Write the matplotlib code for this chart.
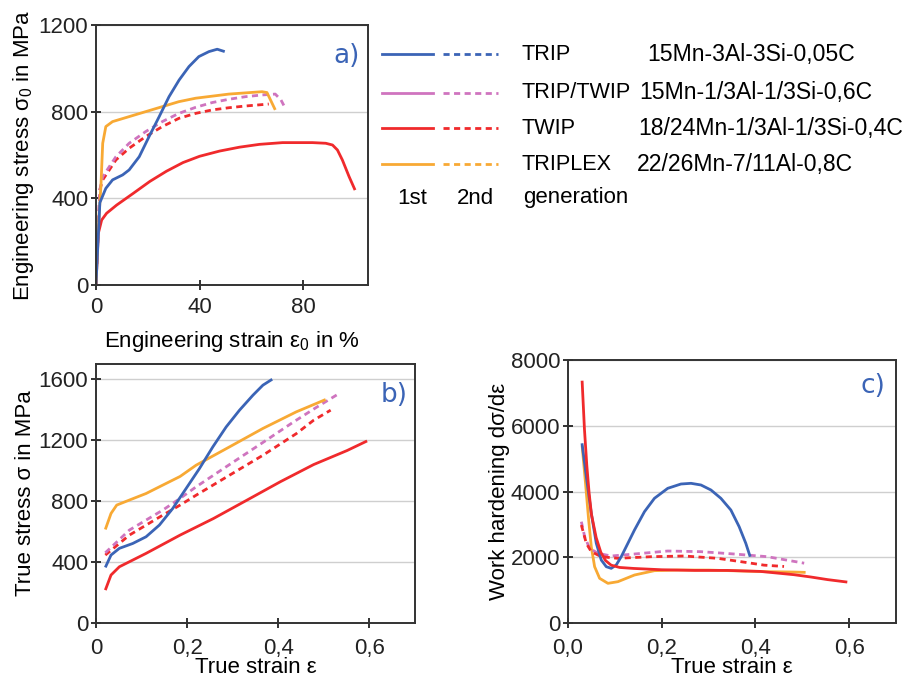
import matplotlib
matplotlib.use("Agg")
import matplotlib.pyplot as plt
from matplotlib.ticker import FixedLocator

plt.rcParams["font.family"] = ["Liberation Sans", "DejaVu Sans"]
plt.rcParams["mathtext.fontset"] = "custom"
plt.rcParams["mathtext.rm"] = "Liberation Sans"

# colours of the four steel families
c_trip = "#3b64b6"
c_triptwip = "#cf74bf"
c_twip = "#f02a2c"
c_triplex = "#f8a934"

# legend table
names = ["TRIP", "TRIP/TWIP", "TWIP", "TRIPLEX"]
comps = ["15Mn-3Al-3Si-0,05C", "15Mn-1/3Al-1/3Si-0,6C",
         "18/24Mn-1/3Al-1/3Si-0,4C", "22/26Mn-7/11Al-0,8C"]
colors = [c_trip, c_triptwip, c_twip, c_triplex]

# ---- a) engineering stress-strain ----
a_trip_x = [0, 1.5, 3.8, 6.4, 10.3, 12.8, 16.7, 20.5, 24.4, 28.2, 32.1, 35.9,
            39.7, 43.6, 46.8, 49.7]
a_trip_y = [0, 380, 446, 485, 508, 531, 592, 685, 777, 869, 946, 1008,
            1054, 1077, 1088, 1077]

a_triplex_x = [0, 0.8, 1.9, 2.6, 3.8, 6.4, 12.8, 19.2, 25.6, 32, 38.5, 51.3,
               64.1, 66, 68, 69.2]
a_triplex_y = [0, 250, 454, 654, 731, 754, 777, 800, 823, 846, 862, 881,
               892, 888, 838, 808]

a_triptwip2_x = [0, 1.5, 2.6, 7.7, 12.8, 19.2, 25.6, 32, 38.5, 44.9, 51.3,
                 57.7, 64.1, 69.2, 71.4, 73.1]
a_triptwip2_y = [0, 440, 500, 592, 654, 708, 754, 792, 820, 842, 857, 869,
                 877, 881, 854, 815]

a_twip2_x = [0, 1.5, 2.6, 7.7, 12.8, 19.2, 25.6, 32, 38.5, 44.9, 51.3, 57.7,
             66.7]
a_twip2_y = [0, 440, 485, 577, 631, 685, 731, 769, 792, 808, 818, 826, 835]

a_twip_x = [0, 0.9, 2.2, 4.1, 8, 14.4, 20.8, 27.2, 33.6, 40, 47.7, 55.4, 63.1,
            72, 83.6, 88.7, 91.3, 93.2, 95.1, 97.7, 100]
a_twip_y = [0, 238, 300, 331, 369, 423, 478, 525, 565, 594, 618, 636, 649,
            657, 657, 654, 646, 623, 577, 500, 438]

# ---- b) true stress-strain ----
b_trip_x = [0.0205, 0.033, 0.0513, 0.0806, 0.1099, 0.1392, 0.1685, 0.1978,
            0.2271, 0.2564, 0.2857, 0.315, 0.3444, 0.3663, 0.3868]
b_trip_y = [365, 446, 490, 522, 566, 643, 752, 883, 1014, 1156, 1287, 1397,
            1495, 1561, 1600]

b_triplex_x = [0.0205, 0.033, 0.0455, 0.0733, 0.1099, 0.1465, 0.1846, 0.2198,
               0.293, 0.3663, 0.4396, 0.4835, 0.504]
b_triplex_y = [614, 719, 774, 807, 850, 905, 962, 1036, 1156, 1277, 1386,
               1441, 1467]

b_triptwip2_x = [0.0205, 0.0733, 0.1465, 0.1846, 0.2198, 0.293, 0.3663,
                 0.4337, 0.4835, 0.53]
b_triptwip2_y = [461, 610, 741, 818, 894, 1040, 1185, 1320, 1415, 1500]

b_twip2_x = [0.0205, 0.0733, 0.1465, 0.1846, 0.2198, 0.293, 0.3663, 0.4396,
             0.4777, 0.515]
b_twip2_y = [446, 577, 708, 774, 839, 970, 1101, 1243, 1331, 1397]

b_twip_x = [0.0205, 0.033, 0.0513, 0.1099, 0.1846, 0.2579, 0.331, 0.4044,
            0.4777, 0.551, 0.595]
b_twip_y = [216, 315, 369, 457, 577, 686, 806, 927, 1040, 1132, 1195]

# ---- c) work hardening ----
c_trip_x = [0.0298, 0.039, 0.0496, 0.0603, 0.0709, 0.0816, 0.0922, 0.1028,
            0.1135, 0.1277, 0.1418, 0.1631, 0.1844, 0.2128, 0.241, 0.2624,
            0.2837, 0.305, 0.3262, 0.3475, 0.3652, 0.3794, 0.3887]
c_trip_y = [5466, 4450, 3337, 2424, 1916, 1713, 1663, 1764, 2017, 2424, 2829,
            3386, 3793, 4097, 4228, 4249, 4198, 4046, 3793, 3437, 2930, 2424,
            2017]

c_triplex_x = [0.03, 0.037, 0.044, 0.0496, 0.0567, 0.0674, 0.0851, 0.1064,
               0.1418, 0.1844, 0.234, 0.3, 0.4255, 0.482, 0.507]
c_triplex_y = [5400, 4300, 3133, 2321, 1713, 1359, 1207, 1257, 1460, 1592,
               1612, 1610, 1561, 1550, 1540]

c_triptwip2_x = [0.0284, 0.0355, 0.046, 0.0638, 0.0922, 0.1418, 0.2128,
                 0.2837, 0.3546, 0.4255, 0.504]
c_triptwip2_y = [3082, 2625, 2272, 2120, 2038, 2099, 2190, 2170, 2099, 2017,
                 1820]

c_twip2_x = [0.0284, 0.039, 0.0496, 0.0709, 0.1064, 0.1773, 0.2482, 0.3191,
             0.3688, 0.4184, 0.461]
c_twip2_y = [2980, 2424, 2170, 2017, 1968, 2017, 2038, 1968, 1866, 1760,
             1720]

c_twip_x = [0.03, 0.035, 0.04, 0.045, 0.05, 0.06, 0.07, 0.08, 0.092, 0.11,
            0.14, 0.2, 0.27, 0.34, 0.41, 0.446, 0.482, 0.518, 0.554, 0.596]
c_twip_y = [7370, 5900, 4800, 3950, 3300, 2600, 2150, 1900, 1760, 1690, 1660,
            1620, 1600, 1600, 1570, 1520, 1470, 1400, 1320, 1245]

lw = 2.0
dash = (0, (2.2, 1.6))
fs = 16

fig = plt.figure(figsize=(9.08, 6.8), dpi=100)


def draw(ax, x, y, color, dashed=False):
    ax.plot(x, y, color=color, lw=lw, ls=dash if dashed else "-",
            solid_joinstyle="round", solid_capstyle="butt")


def style(ax, xlim, ylim, yticks, xticks, xticklabels, xpad):
    ax.set_xlim(*xlim)
    ax.set_ylim(*ylim)
    ax.yaxis.set_major_locator(FixedLocator(yticks))
    ax.set_xticks(xticks)
    ax.set_xticklabels(xticklabels)
    ax.grid(axis="y", color="#cfcfcf", linewidth=1.0)
    ax.set_axisbelow(True)
    for s in ax.spines.values():
        s.set_color("#333333")
        s.set_linewidth(1.4)
    ax.tick_params(direction="inout", length=7, width=1.3, labelsize=fs,
                   colors="#222222", pad=2)
    ax.tick_params(axis="x", pad=xpad)


# a)
ax1 = fig.add_axes([0.1057, 0.5809, 0.2996, 0.3824])
draw(ax1, a_twip_x, a_twip_y, c_twip)
draw(ax1, a_twip2_x, a_twip2_y, c_twip, True)
draw(ax1, a_triptwip2_x, a_triptwip2_y, c_triptwip, True)
draw(ax1, a_triplex_x, a_triplex_y, c_triplex)
draw(ax1, a_trip_x, a_trip_y, c_trip)
style(ax1, (0, 105), (0, 1200), [0, 400, 800, 1200], [0, 40, 80],
      ["0", "40", "80"], 5)
ax1.set_xlabel(r"Engineering strain ε$_0$ in %", fontsize=fs, labelpad=8)
ax1.set_ylabel(r"Engineering stress σ$_0$ in MPa", fontsize=fs, labelpad=2)
ax1.text(0.92, 0.88, "a)", transform=ax1.transAxes, color=c_trip,
         fontsize=19, ha="center", va="center", family="DejaVu Sans")

# b)
ax2 = fig.add_axes([0.1057, 0.0838, 0.3513, 0.3809])
draw(ax2, b_twip_x, b_twip_y, c_twip)
draw(ax2, b_twip2_x, b_twip2_y, c_twip, True)
draw(ax2, b_triptwip2_x, b_triptwip2_y, c_triptwip, True)
draw(ax2, b_triplex_x, b_triplex_y, c_triplex)
draw(ax2, b_trip_x, b_trip_y, c_trip)
style(ax2, (0, 0.7), (0, 1700), [0, 400, 800, 1200, 1600], [0, 0.2, 0.4, 0.6],
      ["0", "0,2", "0,4", "0,6"], 7)
ax2.set_xlabel("True strain ε", fontsize=fs, labelpad=-1)
ax2.set_ylabel("True stress σ in MPa", fontsize=fs, labelpad=2)
ax2.text(0.935, 0.88, "b)", transform=ax2.transAxes, color=c_trip,
         fontsize=19, ha="center", va="center", family="DejaVu Sans")

# c)
ax3 = fig.add_axes([0.6256, 0.0838, 0.3612, 0.3868])
draw(ax3, c_triplex_x, c_triplex_y, c_triplex)
draw(ax3, c_triptwip2_x, c_triptwip2_y, c_triptwip, True)
draw(ax3, c_twip2_x, c_twip2_y, c_twip, True)
draw(ax3, c_trip_x, c_trip_y, c_trip)
draw(ax3, c_twip_x, c_twip_y, c_twip)
style(ax3, (0, 0.7), (0, 8000), [0, 2000, 4000, 6000, 8000],
      [0, 0.2, 0.4, 0.6], ["0,0", "0,2", "0,4", "0,6"], 7)
ax3.set_xlabel("True strain ε", fontsize=fs, labelpad=-1)
ax3.set_ylabel("Work hardening dσ/dε", fontsize=fs, labelpad=1)
ax3.text(0.93, 0.9, "c)", transform=ax3.transAxes, color=c_trip,
         fontsize=19, ha="center", va="center", family="DejaVu Sans")

# legend table drawn in pixel coordinates
leg = fig.add_axes([0, 0, 1, 1])
leg.set_xlim(0, 908)
leg.set_ylim(680, 0)
leg.axis("off")
row_y = [54, 93, 128, 164]
comp_x = [647, 639, 638, 637]
for i in range(len(names)):
    y = row_y[i]
    leg.plot([382, 433], [y, y], color=colors[i], lw=lw)
    leg.plot([443, 498], [y, y], color=colors[i], lw=lw, ls=dash)
    leg.text(522, y, names[i], fontsize=15.6, va="center", ha="left")
    leg.text(comp_x[i], y, comps[i], fontsize=16.6, va="center", ha="left")
leg.text(397, 198, "1st", fontsize=fs, va="center", ha="left")
leg.text(457, 198, "2nd", fontsize=fs, va="center", ha="left")
leg.text(523, 198, "generation", fontsize=fs, va="center", ha="left")

fig.savefig("out.png", dpi=100)
